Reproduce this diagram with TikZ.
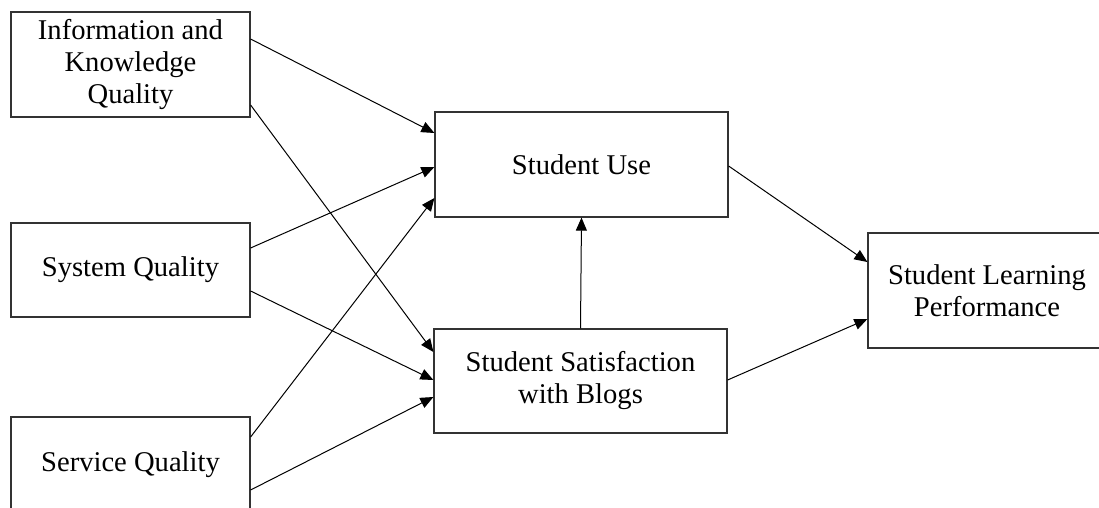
\documentclass[tikz,border=0pt]{standalone}
\usepackage{fontspec}
\setmainfont{Liberation Serif}
\usetikzlibrary{arrows.meta,calc}

\begin{document}
\begin{tikzpicture}[x=0.5pt,y=-0.5pt,
    box/.style={draw=black!80,line width=0.6pt,align=center,inner sep=0pt,
        font=\fontsize{14.3}{16}\selectfont},
    link/.style={-{Triangle[length=6.5pt,width=5.5pt]},line width=0.5pt}]
    \useasboundingbox (0,0) rectangle (1099,508);
    \begin{scope}
    \clip (0,0) rectangle (1099,508);
    \node (info_quality) [box,minimum width=119.5pt,minimum height=52.5pt] at (130.5,64.5) {Information and\\Knowledge\\Quality};
    \node (system_quality) [box,minimum width=119.5pt,minimum height=47pt] at (130.5,270) {System Quality};
    \node (service_quality) [box,minimum width=119.5pt,minimum height=48pt] at (130.5,465) {Service Quality};
    \node (student_use) [box,minimum width=146.5pt,minimum height=52.5pt] at (581.5,164.5) {Student Use};
    \node (satisfaction) [box,minimum width=146.5pt,minimum height=52pt] at (580.5,381) {Student Satisfaction\\with Blogs};
    \node (performance) [box,minimum width=119pt,minimum height=57.5pt] at (987,290.5) {Student Learning\\Performance};
    \end{scope}
    \draw [link] ($(info_quality.east)+(0,-25.5)$) to ($(student_use.west)+(0,-31.5)$);
    \draw [link] ($(info_quality.east)+(0,40.5)$) to ($(satisfaction.west)+(0,-29)$);
    \draw [link] ($(system_quality.east)+(0,-22)$) to ($(student_use.west)+(0,2.5)$);
    \draw [link] ($(system_quality.east)+(0,21)$) to ($(satisfaction.west)+(0,-1)$);
    \draw [link] ($(service_quality.east)+(0,-28)$) to ($(student_use.west)+(0,33.5)$);
    \draw [link] ($(service_quality.east)+(0,25)$) to ($(satisfaction.west)+(0,16)$);
    \draw [link] (satisfaction.north) to (student_use.south);
    \draw [link] ($(student_use.east)+(0,1.5)$) to ($(performance.west)+(0,-28.5)$);
    \draw [link] ($(satisfaction.east)+(0,-1)$) to ($(performance.west)+(0,28.5)$);
\end{tikzpicture}
\end{document}
